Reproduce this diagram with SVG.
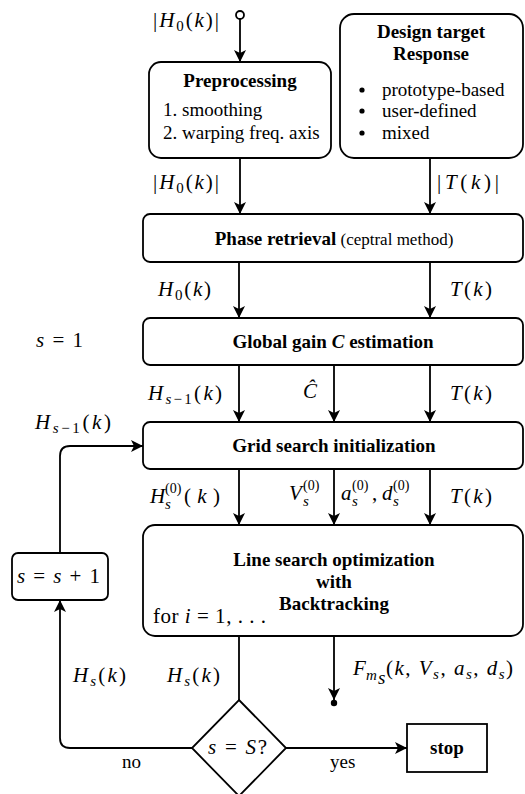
<svg xmlns="http://www.w3.org/2000/svg" width="525" height="794" viewBox="0 0 525 794" font-family="Liberation Serif, DejaVu Serif, serif">
<defs>
<style>
text { font-family: 'Liberation Serif', 'DejaVu Serif', serif; font-size: 19px; fill: #000; }
.b { font-weight: bold; }
.m { font-size: 21px; }
.i { font-style: italic; }
.sb { font-size: 15px; }
.sp { font-size: 14px; }
.box { fill: #fff; stroke: #000; stroke-width: 1.8; }
.ln { fill: none; stroke: #000; stroke-width: 1.8; }
.ar { marker-end: url(#ah); }
</style>
<marker id="ah" viewBox="-13 -7 14 14" markerWidth="14" markerHeight="14" refX="0" refY="0" orient="auto" markerUnits="userSpaceOnUse">
<path d="M0,0 L-12,-6 L-9,0 L-12,6 Z" fill="#000"/>
</marker>
</defs>

<g id="connectors">
<circle cx="240" cy="15" r="4" fill="#fff" stroke="#000" stroke-width="1.8"/>
<path class="ln ar" d="M240,19 L240,62"/>
<path class="ln ar" d="M240,158 L240,214"/>
<path class="ln ar" d="M430,158 L430,214"/>
<path class="ln ar" d="M239,262 L239,318"/>
<path class="ln ar" d="M430,262 L430,318"/>
<path class="ln ar" d="M239,365 L239,422"/>
<path class="ln ar" d="M334,365 L334,422"/>
<path class="ln ar" d="M430,365 L430,422"/>
<path class="ln ar" d="M239,469 L239,525"/>
<path class="ln ar" d="M334,469 L334,525"/>
<path class="ln ar" d="M430,469 L430,525"/>
<path class="ln ar" d="M60,553 L60,456 Q60,446 70,446 L143,446"/>
<path class="ln" d="M239,636 L239,700"/>
<path class="ln ar" d="M334,636 L334,700"/>
<circle cx="334" cy="703" r="3.2" fill="#000"/>
<path class="ln ar" d="M192,748 L70,748 Q60,748 60,738 L60,600"/>
<path class="ln ar" d="M286,748 L407,748"/>
</g>

<g id="input-label">
<text class="m" x="153" y="27" textLength="66">|<tspan class="i">H</tspan><tspan class="sb" dy="4">0</tspan><tspan dy="-4">(</tspan><tspan class="i">k</tspan>)|</text>
</g>

<g id="preprocessing">
<rect class="box" x="149" y="62" width="182" height="96" rx="12"/>
<text class="b" x="240" y="87" text-anchor="middle">Preprocessing</text>
<text x="163" y="116">1. smoothing</text>
<text x="163" y="139">2. warping freq. axis</text>
</g>

<g id="design-target">
<rect class="box" x="340" y="14" width="183" height="144" rx="14"/>
<text class="b" x="431" y="38" text-anchor="middle">Design target</text>
<text class="b" x="431" y="60" text-anchor="middle">Response</text>
<circle cx="362" cy="90" r="2.6"/>
<circle cx="362" cy="111" r="2.6"/>
<circle cx="362" cy="133" r="2.6"/>
<text x="382" y="96">prototype-based</text>
<text x="382" y="117">user-defined</text>
<text x="382" y="139">mixed</text>
</g>

<g id="labels-1">
<text class="m" x="153" y="189" textLength="66">|<tspan class="i">H</tspan><tspan class="sb" dy="4">0</tspan><tspan dy="-4">(</tspan><tspan class="i">k</tspan>)|</text>
<text class="m" x="437" y="189" textLength="62">|<tspan class="i">T</tspan>(<tspan class="i">k</tspan>)|</text>
</g>

<g id="phase-retrieval">
<rect class="box" x="143" y="214" width="380" height="48" rx="7"/>
<text x="334" y="245" text-anchor="middle"><tspan class="b">Phase retrieval</tspan><tspan font-size="17"> (ceptral method)</tspan></text>
</g>

<g id="labels-2">
<text class="m" x="158" y="296" textLength="53"><tspan class="i">H</tspan><tspan class="sb" dy="4">0</tspan><tspan dy="-4">(</tspan><tspan class="i">k</tspan>)</text>
<text class="m" x="450" y="296" textLength="42"><tspan class="i">T</tspan>(<tspan class="i">k</tspan>)</text>
<text class="m" x="36" y="347" textLength="47"><tspan class="i">s</tspan> = 1</text>
</g>

<g id="global-gain">
<rect class="box" x="143" y="318" width="380" height="47" rx="7"/>
<text class="b" x="333" y="348" text-anchor="middle">Global gain <tspan class="i">C</tspan> estimation</text>
</g>

<g id="labels-3">
<text class="m" x="148" y="400" textLength="74"><tspan class="i">H</tspan><tspan class="sb" dy="4"><tspan class="i">s</tspan>−1</tspan><tspan dy="-4">(</tspan><tspan class="i">k</tspan>)</text>
<text class="m i" x="303" y="398">Ĉ</text>
<text class="m" x="450" y="400" textLength="42"><tspan class="i">T</tspan>(<tspan class="i">k</tspan>)</text>
<text class="m" x="35" y="429" textLength="76"><tspan class="i">H</tspan><tspan class="sb" dy="4"><tspan class="i">s</tspan>−1</tspan><tspan dy="-4">(</tspan><tspan class="i">k</tspan>)</text>
</g>

<g id="grid-search">
<rect class="box" x="143" y="422" width="380" height="47" rx="7"/>
<text class="b" x="334" y="452" text-anchor="middle">Grid search initialization</text>
</g>

<g id="labels-4">
<text class="m i" x="150" y="503">H</text>
<text class="sb i" x="165" y="509">s</text>
<text class="sp" x="165" y="493">(0)</text>
<text class="m" x="184" y="503" textLength="36">(<tspan class="i">k</tspan>)</text>
<text class="m i" x="289" y="500">V</text>
<text class="sb i" x="303" y="506">s</text>
<text class="sp" x="303" y="490">(0)</text>
<text class="m i" x="341" y="500">a</text>
<text class="sb i" x="352" y="506">s</text>
<text class="sp" x="352" y="490">(0)</text>
<text class="m" x="372" y="500">,</text>
<text class="m i" x="382" y="500">d</text>
<text class="sb i" x="393" y="506">s</text>
<text class="sp" x="393" y="490">(0)</text>
<text class="m" x="450" y="503" textLength="42"><tspan class="i">T</tspan>(<tspan class="i">k</tspan>)</text>
</g>

<g id="line-search">
<rect class="box" x="143" y="525" width="380" height="111" rx="12"/>
<text class="b" x="334" y="566" text-anchor="middle">Line search optimization</text>
<text class="b" x="334" y="588" text-anchor="middle">with</text>
<text class="b" x="334" y="610" text-anchor="middle">Backtracking</text>
<text class="m" x="153" y="623" textLength="113">for <tspan class="i">i</tspan> = 1, . . .</text>
</g>

<g id="increment">
<rect class="box" x="12" y="553" width="96" height="47" rx="6"/>
<text class="m" x="17" y="583" textLength="83"><tspan class="i">s</tspan> = <tspan class="i">s</tspan> + 1</text>
</g>

<g id="labels-5">
<text class="m" x="73" y="682" textLength="53"><tspan class="i">H</tspan><tspan class="sb i" dy="4">s</tspan><tspan dy="-4">(</tspan><tspan class="i">k</tspan>)</text>
<text class="m" x="167" y="682" textLength="53"><tspan class="i">H</tspan><tspan class="sb i" dy="4">s</tspan><tspan dy="-4">(</tspan><tspan class="i">k</tspan>)</text>
<text class="m i" x="353" y="675">F</text>
<text class="sb i" x="366" y="680">m</text>
<text class="i" font-size="11" x="378" y="684">s</text>
<text class="m" x="386" y="675" textLength="127">(<tspan class="i">k</tspan>, <tspan class="i">V</tspan><tspan class="sb i" dy="4">s</tspan><tspan dy="-4">, </tspan><tspan class="i">a</tspan><tspan class="sb i" dy="4">s</tspan><tspan dy="-4">, </tspan><tspan class="i">d</tspan><tspan class="sb i" dy="4">s</tspan><tspan dy="-4">)</tspan></text>
<text x="122" y="768">no</text>
<text x="330" y="768">yes</text>
</g>

<g id="decision">
<polygon class="box" points="239,700 286,748 239,796 192,748"/>
<text class="m" x="208" y="754" textLength="59"><tspan class="i">s</tspan> = <tspan class="i">S</tspan>?</text>
</g>

<g id="stop">
<rect class="box" x="407" y="724" width="80" height="48"/>
<text class="b" x="447" y="754" text-anchor="middle">stop</text>
</g>
</svg>
